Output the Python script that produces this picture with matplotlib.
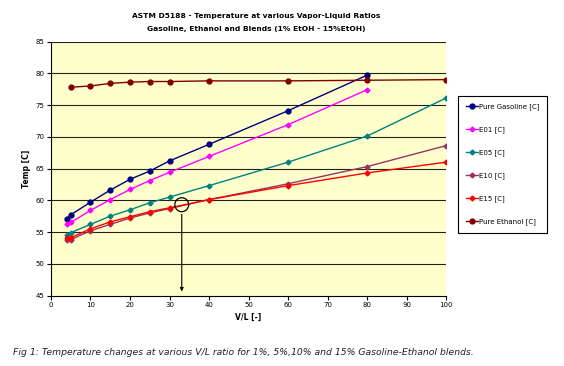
import matplotlib.pyplot as plt
from matplotlib.patches import Ellipse

# V/L ratios
vl_gas = [4, 5, 10, 15, 20, 25, 30, 40, 60, 80]
vl_blend = [4, 5, 10, 15, 20, 25, 30, 40, 60, 80, 100]
vl_eth = [5, 10, 15, 20, 25, 30, 40, 60, 80, 100]

pure_gasoline = [57.1, 57.7, 59.7, 61.6, 63.3, 64.6, 66.2, 68.8, 74.1, 79.7]
e01 = [56.2, 56.5, 58.4, 60.1, 61.7, 63.1, 64.4, 66.9, 71.9, 77.4]
e05 = [54.6, 54.9, 56.2, 57.5, 58.5, 59.6, 60.5, 62.3, 66.0, 70.1, 76.1]
e10 = [53.7, 53.8, 55.2, 56.2, 57.2, 58.0, 58.7, 60.1, 62.6, 65.3, 68.6]
e15 = [54.0, 54.1, 55.5, 56.6, 57.4, 58.2, 58.8, 60.1, 62.3, 64.3, 66.0]
pure_ethanol = [77.8, 78.0, 78.4, 78.6, 78.7, 78.7, 78.8, 78.8, 78.9, 79.0]

fig = plt.figure(figsize=(5.64, 3.66), dpi=100)
ax = fig.add_axes([0.0904, 0.1926, 0.7005, 0.694])
ax.set_facecolor('#FFFFCC')

for y in range(50, 90, 5):
    ax.axhline(y, color='#222222', lw=0.8, zorder=1)

ax.plot(vl_gas, pure_gasoline, color='#000080', marker='o', ms=3.5, lw=1, label='Pure Gasoline [C]', zorder=3)
ax.plot(vl_gas, e01, color='#FF00FF', marker='D', ms=2.5, lw=1, label='E01 [C]', zorder=3)
ax.plot(vl_blend, e05, color='#008080', marker='D', ms=2.5, lw=1, label='E05 [C]', zorder=3)
ax.plot(vl_blend, e10, color='#993366', marker='D', ms=2.5, lw=1, label='E10 [C]', zorder=3)
ax.plot(vl_blend, e15, color='#FF0000', marker='D', ms=2.5, lw=1, label='E15 [C]', zorder=3)
ax.plot(vl_eth, pure_ethanol, color='#800000', marker='o', ms=3.5, lw=1, label='Pure Ethanol [C]', zorder=3)

# circle and arrow marking the 60C crossing
ax.add_patch(Ellipse((33.1, 59.3), 3.5, 2.2, fill=False, ec='black', lw=0.9, zorder=4))
ax.annotate('', xy=(33.1, 45.2), xytext=(33.1, 58.2),
            arrowprops=dict(arrowstyle='-|>', color='black', lw=0.8, mutation_scale=5), zorder=4)

ax.set_xlim(0, 100)
ax.set_ylim(45, 85)
ax.set_xticks(range(0, 101, 10))
ax.set_yticks(range(45, 86, 5))
ax.tick_params(labelsize=5, length=3, width=0.8, pad=2)
for s in ['top', 'right']:
    ax.spines[s].set_visible(False)
ax.set_xlabel('V/L [-]', fontsize=5.5, fontweight='bold', labelpad=3)
ax.set_ylabel('Temp [C]', fontsize=5.5, fontweight='bold', labelpad=3)

fig.text(0.455, 0.955, 'ASTM D5188 - Temperature at various Vapor-Liquid Ratios',
         ha='center', va='center', fontsize=5.4, fontweight='bold')
fig.text(0.455, 0.92, 'Gasoline, Ethanol and Blends (1% EtOH - 15%EtOH)',
         ha='center', va='center', fontsize=5.4, fontweight='bold')

leg = fig.legend(loc='upper left', bbox_to_anchor=(0.806, 0.748), fontsize=5,
                 labelspacing=2.35, handlelength=1.7, handletextpad=0.2,
                 borderpad=1.1, fancybox=False, edgecolor='black', framealpha=1)
leg.get_frame().set_linewidth(0.8)

fig.text(0.023, 0.038, 'Fig 1: Temperature changes at various V/L ratio for 1%, 5%,10% and 15% Gasoline-Ethanol blends.',
         fontsize=6.65, style='italic', color='#222222', va='center')

fig.savefig('out.png', dpi=100)
